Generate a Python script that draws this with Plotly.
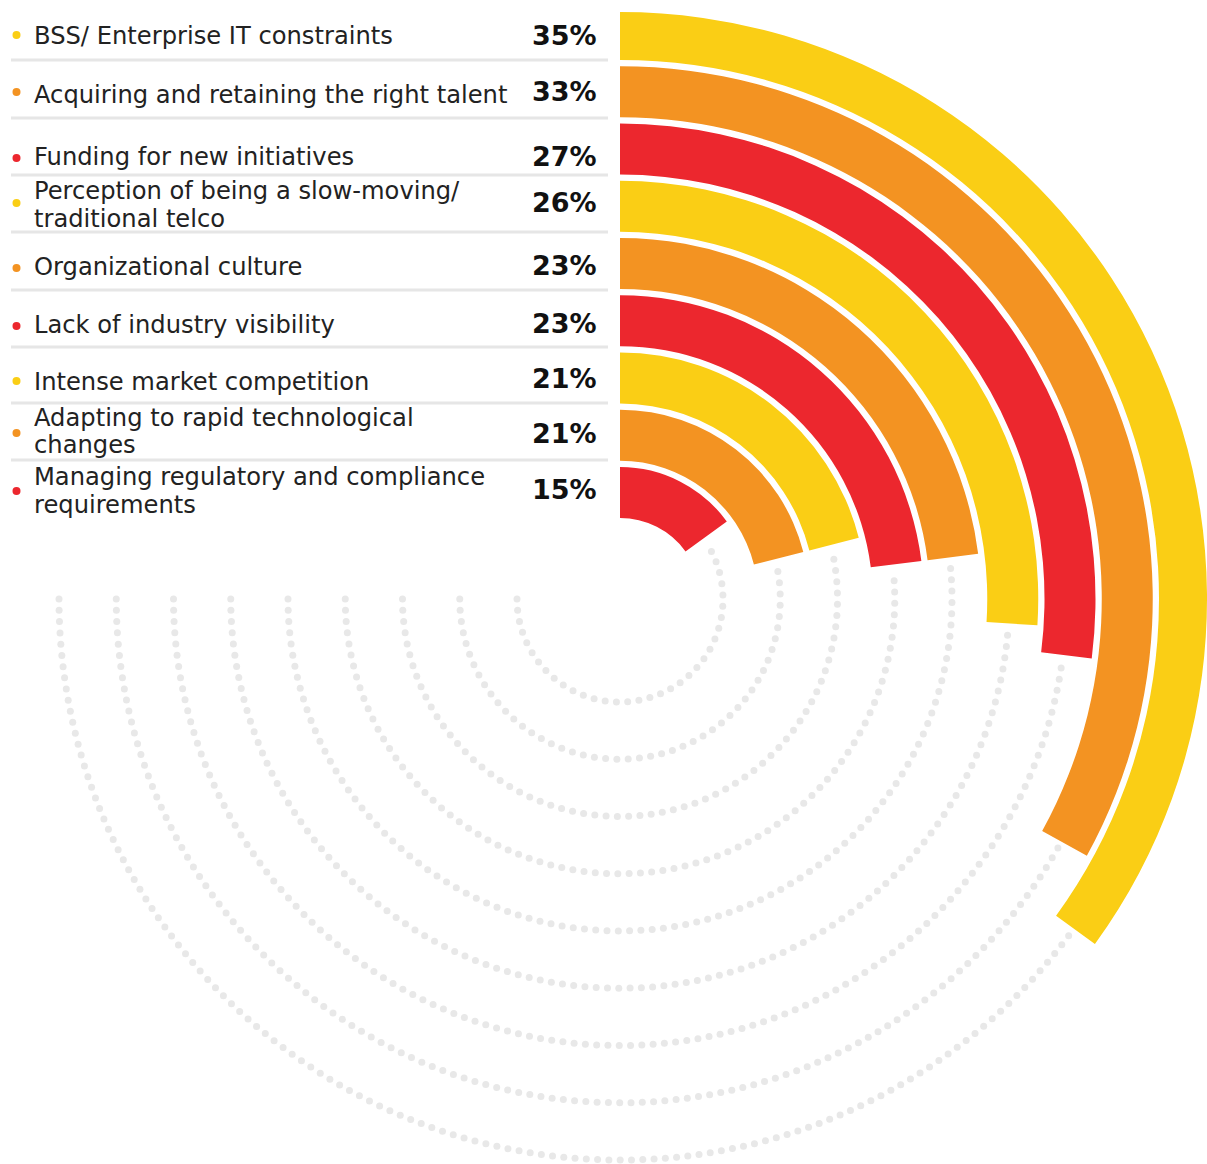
import numpy as np
import plotly.graph_objects as go

# ---------------- data ----------------
categories = [
    "BSS/ Enterprise IT constraints",
    "Acquiring and retaining the right talent",
    "Funding for new initiatives",
    "Perception of being a slow-moving/<br>traditional telco",
    "Organizational culture",
    "Lack of industry visibility",
    "Intense market competition",
    "Adapting to rapid technological<br>changes",
    "Managing regulatory and compliance<br>requirements",
]
values = [35, 33, 27, 26, 23, 23, 21, 21, 15]
value_labels = [f"{v}%" for v in values]
palette = ["#FACE15", "#F39322", "#EC272E"]

# ---------------- layout constants (pixels) ----------------
W, H = 1207, 1164
CX, CY = 620, 599
R_DOTS = 565          # radius of the full-circle polar used for the dotted tracks
R_BARS = W - CX       # radius of the sector polar used for the bars
SECTOR = [-40, 90]    # display sector holding the bars
R_IN0 = 81            # inner radius of innermost ring
PITCH = 57.25         # ring pitch
THICK = 51            # ring thickness
DOT_STEP = 11.3       # spacing of track dots
FULL = 100            # 100 % -> 360 deg

label_line_y = [[36], [95], [157.5], [191.5, 218.5], [267], [324.5], [382], [418, 445], [477, 505]]
pct_y = [35, 92, 157, 202, 266, 323.5, 379, 433.5, 489]
bullet_y = [35, 92, 158, 203, 268, 326, 381, 433, 491]
sep_y = [60, 118, 175, 232, 290, 347, 403, 460]


def px(x):
    return x / W


def py(y):
    return 1 - y / H


fig = go.Figure()
n = len(values)
colors = [palette[i % 3] for i in range(n)]

# dotted tracks (drawn only where no bar covers them)
for i, v in enumerate(values):
    k = n - 1 - i
    r_mid = R_IN0 + k * PITCH + THICK / 2 - 3.5
    end_deg = v * 360 / FULL
    step = np.degrees(DOT_STEP / r_mid)
    th = np.arange(270, end_deg + step * 0.6, -step)
    fig.add_trace(go.Scatterpolar(
        r=np.full(len(th), r_mid), theta=th, mode="markers",
        marker=dict(size=7, color="#E8E8E8"),
        cliponaxis=False, hoverinfo="skip", showlegend=False, subplot="polar",
    ))

# radial bars
for i, v in enumerate(values):
    k = n - 1 - i
    ang = v * 360 / FULL
    fig.add_trace(go.Barpolar(
        r=[THICK], base=[R_IN0 + k * PITCH], theta=[ang / 2], width=[ang],
        marker=dict(color=colors[i], line=dict(width=0)),
        name=categories[i], showlegend=False, subplot="polar2",
        hovertemplate=categories[i].replace("<br>", " ") + ": " + value_labels[i] + "<extra></extra>",
    ))

annotations = []
shapes = []
for i, lab in enumerate(categories):
    lines = lab.split("<br>")
    for ln, yy in zip(lines, label_line_y[i]):
        annotations.append(dict(
            x=px(32), y=py(yy), xref="paper", yref="paper", xanchor="left", yanchor="middle",
            text=ln, showarrow=False,
            font=dict(family="DejaVu Sans", size=24.2, color="#222222"),
        ))
    annotations.append(dict(
        x=px(599), y=py(pct_y[i]), xref="paper", yref="paper", xanchor="right", yanchor="middle",
        text=f"<b>{value_labels[i]}</b>", showarrow=False,
        font=dict(family="DejaVu Sans", size=27, color="#111111"),
    ))
    shapes.append(dict(
        type="circle", xref="paper", yref="paper",
        x0=px(12.5), x1=px(20.5), y0=py(bullet_y[i] + 4), y1=py(bullet_y[i] - 4),
        fillcolor=colors[i], line=dict(width=0),
    ))

for yy in sep_y:
    shapes.append(dict(
        type="line", xref="paper", yref="paper",
        x0=px(11), x1=px(608), y0=py(yy), y1=py(yy),
        line=dict(color="#E6E6E6", width=3),
    ))

# sector polar geometry: bbox of sector [-40, 90] is x in [0,1], y in [sin(-40), 1]
sec_h = R_BARS * (1 - np.sin(np.radians(SECTOR[0])))
top2 = CY - R_BARS - 4
bot2 = CY - R_BARS + sec_h + 4

fig.update_layout(
    width=W, height=H,
    margin=dict(l=0, r=0, t=0, b=0),
    paper_bgcolor="white", plot_bgcolor="white",
    showlegend=False,
    polar=dict(
        domain=dict(x=[px(CX - R_DOTS), px(CX + R_DOTS)], y=[py(CY + R_DOTS), py(CY - R_DOTS)]),
        bgcolor="rgba(0,0,0,0)",
        radialaxis=dict(range=[0, R_DOTS], visible=False, showgrid=False),
        angularaxis=dict(rotation=90, direction="clockwise", visible=False, showgrid=False),
    ),
    polar2=dict(
        domain=dict(x=[px(CX), 1], y=[py(bot2), py(top2)]),
        sector=SECTOR,
        bgcolor="rgba(0,0,0,0)",
        barmode="overlay",
        radialaxis=dict(range=[0, R_BARS], visible=False, showgrid=False),
        angularaxis=dict(rotation=90, direction="clockwise", visible=False, showgrid=False),
    ),
    annotations=annotations,
    shapes=shapes,
)

fig.write_html("out.html")
